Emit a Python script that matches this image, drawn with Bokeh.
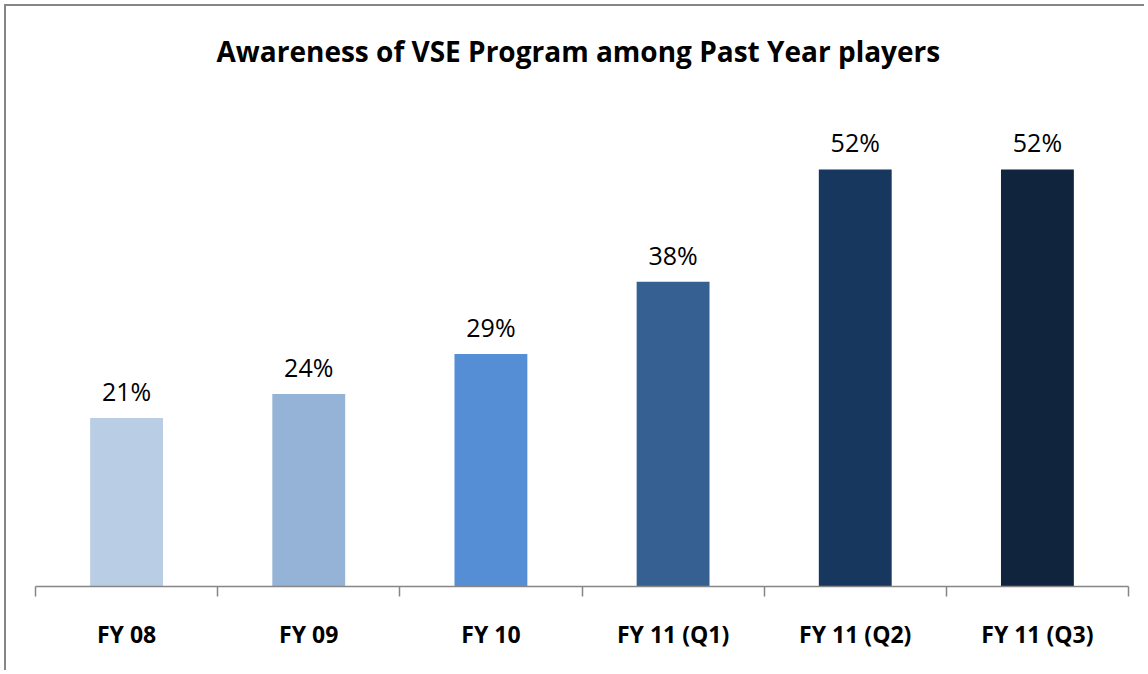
from bokeh.plotting import figure
from bokeh.models import ColumnDataSource, Range1d, LinearAxis, FixedTicker
from bokeh.core.properties import value
from bokeh.embed import file_html
from bokeh.resources import INLINE

categories = ["FY 08", "FY 09", "FY 10", "FY 11 (Q1)", "FY 11 (Q2)", "FY 11 (Q3)"]
awareness = [21, 24, 29, 38, 52, 52]
bar_colors = ["#B9CDE5", "#95B3D7", "#558ED5", "#376092", "#17375E", "#10243E"]
title_text = "Awareness  of VSE Program among Past Year players"

n = len(categories)
centers = [i + 0.5 for i in range(n)]

source = ColumnDataSource(dict(
    x=centers,
    val=awareness,
    color=bar_colors,
    label=[f"{v}%" for v in awareness],
))

p = figure(
    width=1140, height=666,
    x_range=Range1d(0, n),
    y_range=Range1d(0, 61.6),
    output_backend="svg", toolbar_location=None,
    x_axis_location=None, y_axis_location=None,
    min_border_left=29, min_border_right=18, min_border_bottom=86, min_border_top=80,
    title=title_text,
)
p.outline_line_color = None
p.xgrid.visible = False
p.ygrid.visible = False
p.background_fill_color = "white"
p.border_fill_color = "white"

p.title.align = "center"
p.title.text_font = "Open Sans"
p.title.text_font_style = "bold"
p.title.text_font_size = "28px"
p.title.text_color = "#000000"
p.title.standoff = 46

p.styles = {"border-left": "2px solid #868686", "border-top": "2px solid #868686",
            "margin-left": "4px", "margin-top": "4px"}

p.vbar(x="x", top="val", width=0.4, color="color", source=source, line_color=None)
p.text(x="x", y="val", text="label", source=source, text_align="center",
       text_baseline="bottom", y_offset=-10, text_font=value("Open Sans"),
       text_font_size="25px", text_color="#000000")

# axis with ticks on category boundaries
edge_axis = LinearAxis(ticker=FixedTicker(ticks=list(range(n + 1))))
edge_axis.axis_line_color = "#868686"
edge_axis.axis_line_width = 1.5
edge_axis.major_tick_line_color = "#868686"
edge_axis.major_tick_line_width = 1.5
edge_axis.major_tick_out = 10
edge_axis.major_tick_in = 0
edge_axis.minor_tick_line_color = None
edge_axis.major_label_text_font_size = "1px"
edge_axis.major_label_text_color = None
edge_axis.major_label_standoff = 0
p.add_layout(edge_axis, "below")

# axis carrying the category names at bar centres
cat_axis = LinearAxis(ticker=FixedTicker(ticks=centers),
                      major_label_overrides={c: name for c, name in zip(centers, categories)})
cat_axis.axis_line_color = None
cat_axis.major_tick_line_color = None
cat_axis.major_tick_out = 0
cat_axis.minor_tick_line_color = None
cat_axis.major_label_standoff = 21
cat_axis.major_label_text_font = "Open Sans"
cat_axis.major_label_text_font_style = "bold"
cat_axis.major_label_text_font_size = "23px"
cat_axis.major_label_text_color = "#000000"
p.add_layout(cat_axis, "below")

open("out.html", "w").write(file_html(p, INLINE))
